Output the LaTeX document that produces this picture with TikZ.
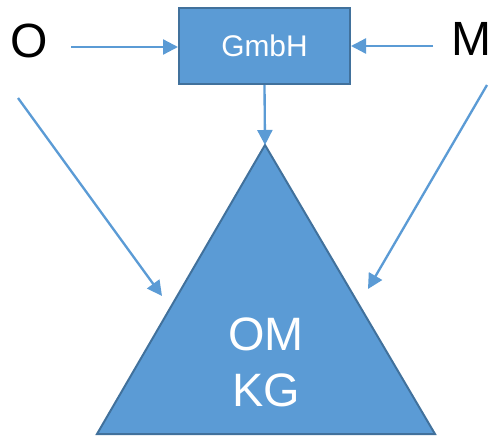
\documentclass[tikz,border=0pt]{standalone}
\usepackage{fontspec}
\setmainfont{Liberation Sans}
\usepackage{xcolor}
\usetikzlibrary{arrows.meta,positioning,calc}

\definecolor{kgblue}{HTML}{5B9BD5}
\definecolor{kgedge}{HTML}{41719C}

\begin{document}
\begin{tikzpicture}[
    x=0.03cm, y=-0.03cm,
    firm/.style={rectangle, draw=kgedge, line width=1.7pt, fill=kgblue, text=white, minimum width=5.13cm, minimum height=2.28cm, font=\fontsize{25.5}{30}\selectfont},
    partner/.style={text=black, inner sep=0pt, font=\fontsize{41}{48}\selectfont},
    company/.style={draw=kgedge, line width=1.7pt, fill=kgblue, line join=miter},
    kgtext/.style={text=white, align=center, inner sep=0pt, font=\fontsize{40}{47.6}\selectfont},
    link/.style={draw=kgblue, line width=2pt, -{Triangle[length=0.45cm,width=0.45cm]}}
]
\useasboundingbox (0,0) rectangle (495,437);

% Partners and the GmbH
\node [partner] (o) at (29,41) {O};
\node [partner] (m) at (472,39) {M};
\node [firm] (gmbh) at (264.5,46) {GmbH};

% The KG as triangle
\coordinate (apex) at (265,145);
\coordinate (baseleft) at (97,434);
\coordinate (baseright) at (435,434);
\draw [company] (apex) -- (baseright) -- (baseleft) -- cycle;
\node [kgtext] (kg) at (266,362) {OM\\KG};

% Arrow ends
\coordinate (ostart) at (71,47);
\coordinate (mstart) at (433,46);
\coordinate (olow) at (18,98);
\coordinate (mlow) at (487,85);
\coordinate (lefttip) at (162,296);
\coordinate (righttip) at (368,289);

% Connections
\path [link] (ostart) -- (ostart -| gmbh.west);
\path [link] (mstart) -- (mstart -| gmbh.east);
\path [link] (gmbh.south) -- (apex);
\path [link] (olow) -- (lefttip);
\path [link] (mlow) -- (righttip);

\end{tikzpicture}
\end{document}
